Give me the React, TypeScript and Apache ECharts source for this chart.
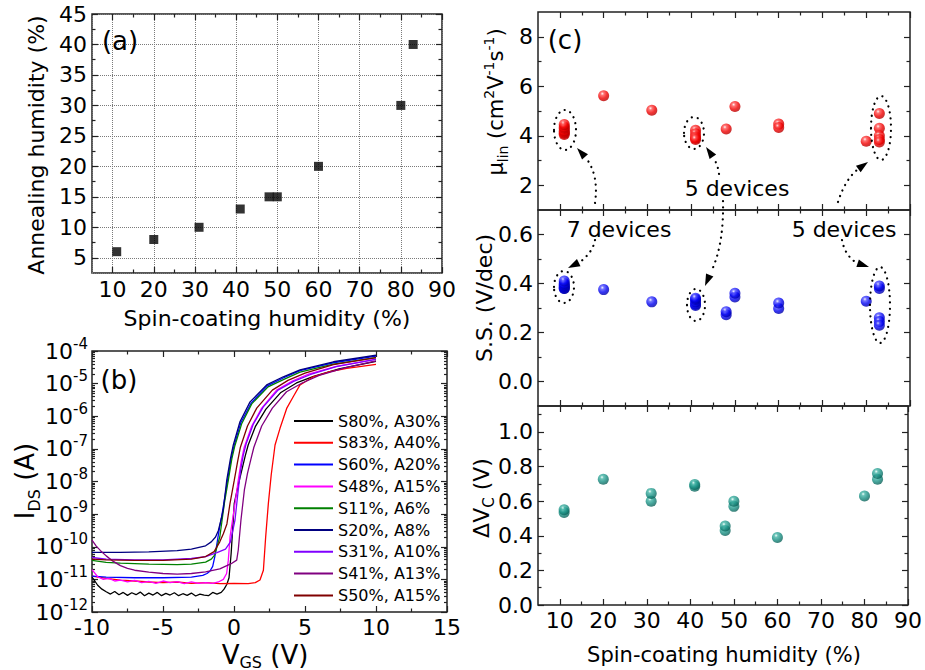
import React, { useEffect, useRef } from "react";
import * as echarts from "echarts";

const FONT = "DejaVu Sans";

// ---------------- Panel (a) ----------------
const spinHumidity = [11, 20, 31, 41, 48, 50, 60, 80, 83];
const annealHumidity = [6, 8, 10, 13, 15, 15, 20, 30, 40];
const aXTicks = [10, 20, 30, 40, 50, 60, 70, 80, 90];
const aXMinor = [15, 25, 35, 45, 55, 65, 75, 85];
const aYTicks = [5, 10, 15, 20, 25, 30, 35, 40, 45];
const aYMinor = [7.5, 12.5, 17.5, 22.5, 27.5, 32.5, 37.5, 42.5];

// ---------------- Panel (b): V_GS (V) and log10(I_DS/A) ----------------
const bXTicks = [-10, -5, 0, 5, 10, 15];
const bXMinor = [-7.5, -2.5, 2.5, 7.5, 12.5];
const bYExponents = [-12, -11, -10, -9, -8, -7, -6, -5, -4];

const curveNames = [
  "S80%, A30%", "S83%, A40%", "S60%, A20%", "S48%, A15%", "S11%, A6%",
  "S20%, A8%", "S31%, A10%", "S41%, A13%", "S50%, A15%",
];
const curveColors = [
  "#000000", "#ff0000", "#0000ff", "#ff00ff", "#008000",
  "#000080", "#8000ff", "#800080", "#800000",
];

const vS80 = [-10, -9.8, -9.6, -9.3, -9.0, -8.7, -8.4, -8.1, -7.8, -7.5, -7.2, -6.9, -6.6, -6.3, -6.0, -5.7, -5.4, -5.1, -4.8, -4.5, -4.2, -3.9, -3.6, -3.3, -3.0, -2.7, -2.4, -2.1, -1.8, -1.5, -1.2, -0.9, -0.7, -0.5, -0.35, -0.2, -0.1, 0.02, 0.3, 0.55, 0.8, 1.0, 1.5, 2.25, 3.3, 4.4, 5.6, 7.4, 10];
const logS80 = [-10.93, -11.05, -11.18, -11.3, -11.38, -11.45, -11.37, -11.47, -11.4, -11.49, -11.41, -11.47, -11.39, -11.5, -11.42, -11.48, -11.4, -11.5, -11.43, -11.48, -11.41, -11.5, -11.44, -11.49, -11.42, -11.51, -11.45, -11.48, -11.5, -11.4, -11.45, -11.4, -11.3, -11.15, -10.95, -10.2, -9.5, -8.67, -8.1, -7.65, -7.2, -6.88, -6.32, -5.78, -5.27, -4.98, -4.78, -4.55, -4.32];

const vS83 = [-10, -9, -8, -7, -6, -5, -4, -3, -2, -1, 0, 1, 1.5, 1.83, 2.07, 2.23, 2.42, 2.62, 2.89, 3.24, 3.71, 4.2, 4.65, 5.58, 6.76, 7.94, 10];
const logS83 = [-10.9, -10.97, -11.02, -11.05, -11.08, -11.1, -11.08, -11.12, -11.1, -11.13, -11.12, -11.13, -11.1, -11.02, -10.72, -9.7, -8.67, -7.8, -6.88, -6.37, -5.76, -5.38, -5.04, -4.79, -4.63, -4.53, -4.41];

const vS60 = [-10, -9, -7, -5, -3, -2.2, -1.9, -1.7, -1.5, -1.35, -1.2, -1.05, -0.87, -0.45, -0.2, 0.0, 0.48, 1.2, 2.35, 3.5, 4.65, 7, 10];
const logS60 = [-10.9, -10.93, -10.95, -10.95, -10.93, -10.88, -10.82, -10.75, -10.6, -10.3, -9.9, -9.5, -9.08, -7.96, -7.3, -6.92, -6.2, -5.6, -5.07, -4.82, -4.6, -4.36, -4.16];

const vS48 = [-10, -9.6, -9.2, -8.8, -8.4, -8, -7.5, -7, -6.5, -6, -5.5, -5, -4.5, -4, -3.5, -3, -2.5, -2, -1.5, -1.1, -0.75, -0.52, -0.4, -0.28, 0.07, 0.3, 0.5, 0.72, 1.25, 1.95, 3.0, 4.1, 5.3, 7.2, 10];
const logS48 = [-10.7, -10.92, -11.0, -10.97, -11.05, -11.02, -11.08, -11.03, -11.1, -11.06, -11.12, -11.05, -11.1, -11.07, -11.13, -11.08, -11.12, -11.1, -11.12, -11.08, -11.0, -10.82, -10.41, -9.7, -8.67, -7.96, -7.4, -6.95, -6.3, -5.75, -5.2, -4.92, -4.7, -4.47, -4.25];

const vS11 = [-10, -9, -8, -6, -4, -3, -2, -1.6, -1.35, -1.2, -1.0, -0.68, -0.4, -0.15, 0.05, 0.55, 1.25, 2.4, 3.55, 4.65, 7, 10];
const logS11 = [-10.42, -10.48, -10.5, -10.53, -10.55, -10.53, -10.47, -10.38, -10.25, -10.0, -9.7, -8.67, -7.96, -7.3, -6.92, -6.22, -5.62, -5.1, -4.86, -4.65, -4.4, -4.2];

const vS20 = [-10, -8, -6, -4, -3, -2, -1.6, -1.3, -1.1, -0.9, -0.75, -0.51, -0.25, -0.05, 0.42, 1.13, 2.3, 3.47, 4.65, 7, 10];
const logS20 = [-10.17, -10.17, -10.16, -10.12, -10.07, -9.97, -9.85, -9.7, -9.5, -9.15, -8.85, -7.96, -7.3, -6.88, -6.17, -5.56, -5.04, -4.79, -4.58, -4.33, -4.13];

const vS31 = [-10, -9, -7, -5, -3, -2, -1.2, -0.6, -0.25, 0.07, 0.3, 0.47, 0.65, 0.85, 1.35, 2.05, 3.1, 4.2, 5.4, 7.2, 10];
const logS31 = [-10.33, -10.38, -10.4, -10.4, -10.36, -10.3, -10.18, -10.07, -9.85, -9.18, -8.26, -7.65, -7.2, -6.85, -6.25, -5.72, -5.2, -4.93, -4.72, -4.48, -4.26];

const vS41 = [-10, -9.7, -9.4, -9, -8.5, -8, -7.5, -7, -6, -5, -4, -3, -2, -1, -0.2, 0.19, 0.3, 0.49, 0.73, 0.95, 1.2, 1.4, 1.95, 2.7, 3.7, 4.8, 6, 7.8, 10];
const logS41 = [-9.8, -9.98, -10.12, -10.28, -10.45, -10.58, -10.66, -10.72, -10.78, -10.82, -10.84, -10.82, -10.77, -10.68, -10.52, -10.41, -10.1, -9.18, -8.26, -7.75, -7.3, -6.95, -6.3, -5.75, -5.25, -4.98, -4.75, -4.52, -4.3];

const vS50 = [-10, -9, -7, -5, -3, -2, -1.4, -1.0, -0.75, -0.5, -0.28, 0.02, 0.25, 0.45, 0.95, 1.6, 2.7, 3.8, 5, 7, 10];
const logS50 = [-10.38, -10.4, -10.42, -10.42, -10.38, -10.3, -10.15, -9.85, -9.6, -9.3, -8.67, -7.96, -7.4, -6.95, -6.3, -5.75, -5.2, -4.9, -4.68, -4.42, -4.2];

const curveV = [vS80, vS83, vS60, vS48, vS11, vS20, vS31, vS41, vS50];
const curveLog = [logS80, logS83, logS60, logS48, logS11, logS20, logS31, logS41, logS50];

// ---------------- Panel (c) ----------------
const cXTicks = [10, 20, 30, 40, 50, 60, 70, 80, 90];
const cXMinor = [15, 25, 35, 45, 55, 65, 75, 85];

const mobX = [11, 11, 11, 11, 11, 11, 11, 20, 31, 41, 41, 41, 41, 41, 48, 50, 60, 60, 80, 83, 83, 83, 83, 83];
const mobY = [4.05, 4.1, 4.15, 4.2, 4.3, 4.35, 4.45, 5.62, 5.03, 4.22, 4.08, 3.95, 3.9, 3.85, 4.27, 5.18, 4.47, 4.33, 3.78, 4.9, 4.3, 4.0, 3.85, 3.75];
const mobTicks = [2, 4, 6, 8];
const mobMinor = [3, 5, 7];

const ssX = [11, 11, 11, 11, 11, 11, 11, 20, 31, 41, 41, 41, 41, 41, 48, 48, 50, 50, 60, 60, 80, 83, 83, 83, 83, 83];
const ssY = [0.38, 0.38, 0.385, 0.39, 0.395, 0.4, 0.41, 0.375, 0.325, 0.31, 0.315, 0.325, 0.335, 0.34, 0.272, 0.285, 0.345, 0.36, 0.298, 0.32, 0.328, 0.38, 0.39, 0.26, 0.245, 0.23];
const ssTicks = [0, 0.2, 0.4, 0.6];
const ssMinor = [0.1, 0.3, 0.5];

const dvcX = [11, 11, 20, 31, 31, 41, 41, 48, 48, 50, 50, 60, 80, 83, 83];
const dvcY = [0.535, 0.55, 0.727, 0.6, 0.645, 0.686, 0.696, 0.43, 0.456, 0.57, 0.6, 0.39, 0.63, 0.727, 0.76];
const dvcTicks = [0, 0.2, 0.4, 0.6, 0.8, 1.0];
const dvcMinor = [0.1, 0.3, 0.5, 0.7, 0.9, 1.1];

function sphere(light: string, mid: string, base: string, dark: string) {
  return {
    type: "radial", x: 0.38, y: 0.32, r: 0.72,
    colorStops: [
      { offset: 0, color: light },
      { offset: 0.22, color: mid },
      { offset: 0.6, color: base },
      { offset: 1, color: dark },
    ],
  };
}

function buildOption() {
  const xAxis: any[] = [];
  const yAxis: any[] = [];
  const TICK = { color: "#222", width: 1.2 };

  function addAxis(list: any[], gridIndex: number, position: string, min: number, max: number,
    values: number[], len: number, label?: any) {
    const idx = list.length;
    list.push({
      type: "value", gridIndex, position, min, max,
      axisLine: { show: false, onZero: false },
      axisTick: { show: true, inside: true, length: len, customValues: values, lineStyle: TICK },
      axisLabel: label ? { show: true, customValues: values, ...label } : { show: false },
      splitLine: { show: false },
      minorTick: { show: false },
    });
    return idx;
  }

  function frame(g: number, xr: number[], xMaj: number[], xMin: number[], yr: number[], yMaj: number[], yMin: number[],
    xLabel?: any, yLabel?: any, yMinLen = 3.5) {
    const xi = addAxis(xAxis, g, "bottom", xr[0], xr[1], xMaj, 6, xLabel);
    addAxis(xAxis, g, "bottom", xr[0], xr[1], xMin, 3.5);
    addAxis(xAxis, g, "top", xr[0], xr[1], xMaj, 6);
    addAxis(xAxis, g, "top", xr[0], xr[1], xMin, 3.5);
    const yi = addAxis(yAxis, g, "left", yr[0], yr[1], yMaj, 6, yLabel);
    addAxis(yAxis, g, "left", yr[0], yr[1], yMin, yMinLen);
    addAxis(yAxis, g, "right", yr[0], yr[1], yMaj, 6);
    addAxis(yAxis, g, "right", yr[0], yr[1], yMin, yMinLen);
    return [xi, yi];
  }

  const lbl = (size: number, margin: number, extra: any = {}) => ({
    fontSize: size, fontFamily: FONT, color: "#000", margin, ...extra,
  });

  const gridStyle = { show: true, borderColor: "#222", borderWidth: 1.5, backgroundColor: "transparent" };
  const grid = [
    { left: 92, top: 14, width: 350, height: 259, ...gridStyle },
    { left: 92, top: 351, width: 355, height: 261, ...gridStyle },
    { left: 538, top: 12, width: 372, height: 198, ...gridStyle },
    { left: 538, top: 210, width: 372, height: 196, ...gridStyle },
    { left: 538, top: 406, width: 372, height: 199, ...gridStyle },
  ];

  const A = frame(0, [5, 90], aXTicks, aXMinor, [2.5, 45], aYTicks, aYMinor, lbl(22, 5), lbl(22, 5));

  const logMinor: number[] = [];
  for (let d = -12; d < -4; d++) {
    for (let k = 2; k <= 9; k++) logMinor.push(d + Math.log10(k));
  }
  const B = frame(1, [-10, 15], bXTicks, bXMinor, [-12, -4], bYExponents, logMinor,
    lbl(22, 4),
    {
      margin: 4,
      formatter: (v: number) => `{b|10}{s|${v}}`,
      rich: {
        b: { fontSize: 22, fontFamily: FONT, color: "#000", lineHeight: 30 },
        s: { fontSize: 15, fontFamily: FONT, color: "#000", lineHeight: 14, verticalAlign: "top" },
      },
    }, 3);

  const C1 = frame(2, [5, 90], cXTicks, cXMinor, [1, 9], mobTicks, mobMinor, undefined, lbl(22, 5));
  const C2 = frame(3, [5, 90], cXTicks, cXMinor, [-0.1, 0.7], ssTicks, ssMinor, undefined,
    lbl(22, 5, { formatter: (v: number) => v.toFixed(1) }));
  const C3 = frame(4, [5, 90], cXTicks, cXMinor, [0, 1.15], dvcTicks, dvcMinor, lbl(22, 4),
    lbl(22, 5, { formatter: (v: number) => v.toFixed(1) }));

  // dotted grid of panel (a): extra axes (same range, automatic nice ticks) showing only split lines
  const gridLineStyle = { show: true, lineStyle: { color: "#7a7a7a", type: "dotted", width: 1 } };
  xAxis.push({
    type: "value", gridIndex: 0, position: "bottom", min: 5, max: 90, splitNumber: 8,
    axisLine: { show: false, onZero: false }, axisTick: { show: false }, axisLabel: { show: false },
    splitLine: gridLineStyle,
  });
  yAxis.push({
    type: "value", gridIndex: 0, position: "left", min: 2.5, max: 45, splitNumber: 9,
    axisLine: { show: false, onZero: false }, axisTick: { show: false }, axisLabel: { show: false },
    splitLine: gridLineStyle,
  });

  const series: any[] = [];
  series.push({
    type: "scatter", xAxisIndex: A[0], yAxisIndex: A[1], symbol: "rect", symbolSize: 9,
    itemStyle: { color: "#000" }, z: 10,
    data: spinHumidity.map((x, i) => [x, annealHumidity[i]]),
  });
  curveNames.forEach((name, ci) => {
    series.push({
      type: "line", name, xAxisIndex: B[0], yAxisIndex: B[1], symbol: "none", showSymbol: false,
      color: curveColors[ci],
      lineStyle: { color: curveColors[ci], width: 1.3 },
      itemStyle: { color: curveColors[ci] },
      data: curveV[ci].map((v, i) => [v, curveLog[ci][i]]),
      z: 5,
    });
  });
  series.push({
    type: "scatter", xAxisIndex: C1[0], yAxisIndex: C1[1], symbolSize: 11, z: 10,
    itemStyle: { color: sphere("#fff4f4", "#ff5050", "#f00000", "#b00000") },
    data: mobX.map((x, i) => [x, mobY[i]]),
  });
  series.push({
    type: "scatter", xAxisIndex: C2[0], yAxisIndex: C2[1], symbolSize: 11, z: 10,
    itemStyle: { color: sphere("#f0f0ff", "#5050ff", "#0000f0", "#0000a0") },
    data: ssX.map((x, i) => [x, ssY[i]]),
  });
  series.push({
    type: "scatter", xAxisIndex: C3[0], yAxisIndex: C3[1], symbolSize: 11, z: 10,
    itemStyle: { color: sphere("#effffb", "#45b5a7", "#168c80", "#0b5c54") },
    data: dvcX.map((x, i) => [x, dvcY[i]]),
  });

  // ---------- graphic: titles, panel letters, annotations ----------
  const txt = (x: number, y: number, text: string, size: number, rotation = 0, rich?: any) => ({
    type: "text", x, y, rotation, silent: true, z: 20,
    style: {
      text, fontSize: size, fontFamily: FONT, fill: "#000",
      align: "center", verticalAlign: "middle", rich,
    },
  });
  const tok = (size: number, lh: number, va?: string) => ({
    fontSize: size, fontFamily: FONT, fill: "#000", lineHeight: lh, verticalAlign: va,
  });

  const dotStyle = { stroke: "#000", fill: "none", lineWidth: 2.2, lineDash: [0.1, 6], lineCap: "round" };
  const ellipse = (cx: number, cy: number, rx: number, ry: number) => ({
    type: "ellipse", silent: true, z: 20, shape: { cx, cy, rx, ry }, style: dotStyle,
  });
  const arrow = (x0: number, y0: number, cx: number, cy: number, x1: number, y1: number, tx: number, ty: number) => {
    const dx = tx - x1, dy = ty - y1;
    const L = Math.hypot(dx, dy);
    const ux = dx / L, uy = dy / L;
    const hl = 12, hw = 4;
    const bx = tx - ux * hl, by = ty - uy * hl;
    return [
      { type: "bezierCurve", silent: true, z: 20, shape: { x1: x0, y1: y0, cpx1: cx, cpy1: cy, x2: x1, y2: y1 }, style: dotStyle },
      {
        type: "polygon", silent: true, z: 20,
        shape: { points: [[tx, ty], [bx - uy * hw, by + ux * hw], [bx + uy * hw, by - ux * hw]] },
        style: { fill: "#000" },
      },
    ];
  };

  const graphic: any[] = [
    txt(120, 41, "(a)", 26),
    txt(119, 380, "(b)", 26),
    txt(565, 40, "(c)", 26),
    txt(36, 145, "Annealing humidity (%)", 22, Math.PI / 2),
    txt(267, 318, "Spin-coating humidity (%)", 22),
    txt(265, 655, "{v|V}{s|GS}{v| (V)}", 26, 0, { v: tok(26, 30), s: tok(16, 12, "bottom") }),
    txt(25, 481, "{v|I}{s|DS}{v| (A)}", 26, Math.PI / 2, { v: tok(26, 34), s: tok(16, 14, "bottom") }),
    txt(496, 102, "{m|μ}{s|lin}{m| (cm}{p|2}{m|V}{p|-1}{m|s}{p|-1}{m|)}", 21, Math.PI / 2,
      { m: tok(21, 28), s: tok(14, 12, "bottom"), p: tok(14, 12, "top") }),
    txt(484, 298, "S.S. (V/dec)", 22, Math.PI / 2),
    txt(481, 498, "{m|ΔV}{s|C}{m| (V)}", 22, Math.PI / 2, { m: tok(22, 30), s: tok(15, 12, "bottom") }),
    txt(724, 655, "Spin-coating humidity (%)", 21),
    txt(619, 229, "7 devices", 22),
    txt(737, 188, "5 devices", 22),
    txt(844, 229, "5 devices", 22),
    ellipse(565, 130, 11, 20),
    ellipse(694, 133, 10, 16),
    ellipse(881, 128, 10, 32),
    ellipse(564, 287, 10, 16),
    ellipse(696, 305, 9, 16),
    ellipse(880, 305, 10, 38),
    ...arrow(595, 203, 599, 175, 586, 158, 577, 148),
    ...arrow(595, 240, 593, 252, 580, 262, 568, 268),
    ...arrow(719, 174, 718, 165, 713, 157, 706, 147),
    ...arrow(723, 201, 724, 245, 711, 272, 705, 286),
    ...arrow(838, 202, 845, 180, 857, 170, 868, 162),
    ...arrow(842, 240, 845, 256, 857, 263, 869, 267),
  ];

  return {
    animation: false,
    backgroundColor: "#fff",
    grid,
    xAxis,
    yAxis,
    series,
    legend: {
      data: curveNames,
      orient: "vertical",
      left: 294,
      top: 413,
      itemWidth: 39,
      itemHeight: 2,
      itemGap: 5.8,
      padding: 0,
      icon: "rect",
      selectedMode: false,
      textStyle: { fontSize: 16, fontFamily: FONT, color: "#000" },
    },
    graphic,
  };
}

export default function App() {
  const ref = useRef<HTMLDivElement>(null);
  useEffect(() => {
    const chart = echarts.init(ref.current!, null, { renderer: "svg" });
    chart.setOption(buildOption() as any);
    return () => chart.dispose();
  }, []);
  return (
    <div
      ref={ref}
      style={{ position: "fixed", left: 0, top: 0, width: 925, height: 670, background: "#fff" }}
    />
  );
}
